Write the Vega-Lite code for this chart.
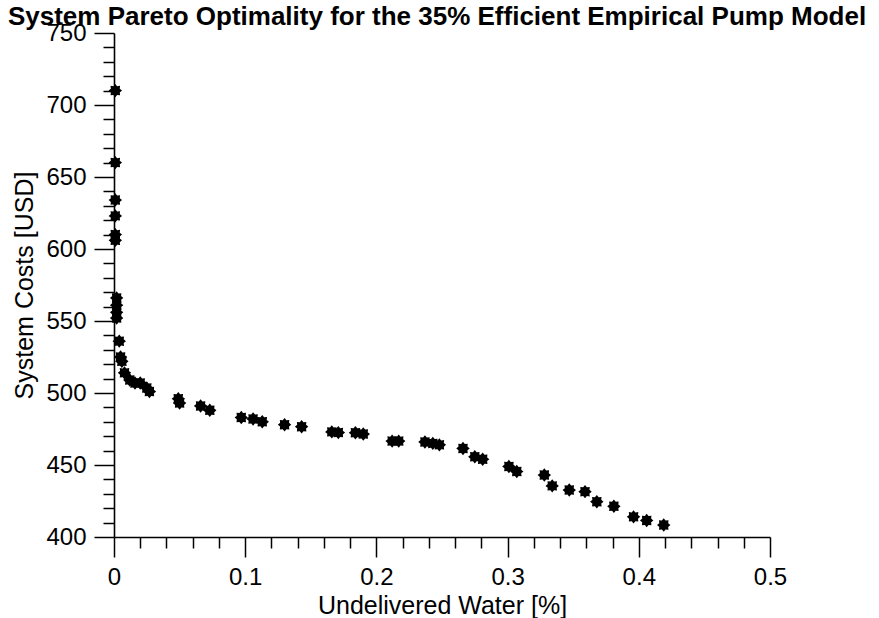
{
  "$schema": "https://vega.github.io/schema/vega-lite/v6.json",
  "width": 656,
  "height": 504,
  "autosize": {"type": "none"},
  "padding": {"left": 114, "top": 33, "right": 109, "bottom": 81},
  "background": "white",
  "title": {"text": "System Pareto Optimality for the 35% Efficient Empirical Pump Model", "font": "Liberation Sans", "fontSize": 26, "fontWeight": "bold", "anchor": "middle", "frame": "group", "offset": -9, "dx": -5, "color": "black"},
  "config": {
    "view": {"stroke": null},
    "axis": {"domainColor": "black", "tickColor": "black", "labelColor": "black", "titleColor": "black", "labelFont": "Liberation Sans", "titleFont": "Liberation Sans", "titleFontWeight": "normal", "grid": false, "domainWidth": 1.6, "tickWidth": 1.5, "labelOverlap": false, "labelFlush": false}
  },
  "data": {"values": [
    {"water": 0.001, "cost": 710},
    {"water": 0.001, "cost": 660},
    {"water": 0.001, "cost": 634},
    {"water": 0.001, "cost": 623},
    {"water": 0.001, "cost": 610},
    {"water": 0.001, "cost": 606},
    {"water": 0.002, "cost": 566},
    {"water": 0.002, "cost": 561},
    {"water": 0.002, "cost": 556},
    {"water": 0.002, "cost": 552},
    {"water": 0.004, "cost": 536},
    {"water": 0.005, "cost": 525},
    {"water": 0.006, "cost": 522},
    {"water": 0.008, "cost": 514},
    {"water": 0.012, "cost": 509},
    {"water": 0.016, "cost": 507},
    {"water": 0.02, "cost": 507},
    {"water": 0.025, "cost": 503.5},
    {"water": 0.027, "cost": 501},
    {"water": 0.049, "cost": 496},
    {"water": 0.05, "cost": 493},
    {"water": 0.066, "cost": 491},
    {"water": 0.073, "cost": 488},
    {"water": 0.097, "cost": 483},
    {"water": 0.106, "cost": 482},
    {"water": 0.113, "cost": 480},
    {"water": 0.13, "cost": 478},
    {"water": 0.143, "cost": 476.6},
    {"water": 0.166, "cost": 473},
    {"water": 0.171, "cost": 472.5},
    {"water": 0.184, "cost": 472.4},
    {"water": 0.19, "cost": 471.5},
    {"water": 0.212, "cost": 466.6},
    {"water": 0.217, "cost": 466.6},
    {"water": 0.237, "cost": 466},
    {"water": 0.243, "cost": 465},
    {"water": 0.248, "cost": 464},
    {"water": 0.266, "cost": 461.5},
    {"water": 0.275, "cost": 455.7},
    {"water": 0.281, "cost": 454},
    {"water": 0.301, "cost": 449},
    {"water": 0.307, "cost": 445.5},
    {"water": 0.328, "cost": 443},
    {"water": 0.334, "cost": 435.5},
    {"water": 0.347, "cost": 432.6},
    {"water": 0.359, "cost": 431.5},
    {"water": 0.368, "cost": 424.5},
    {"water": 0.381, "cost": 421.3},
    {"water": 0.396, "cost": 414},
    {"water": 0.406, "cost": 411.5},
    {"water": 0.419, "cost": 408.3}
  ]},
  "layer": [
    {
      "mark": {"type": "point", "shape": "M1,0L0.665,0.276L0.707,0.707L0.276,0.665L0,1L-0.276,0.665L-0.707,0.707L-0.665,0.276L-1,0L-0.665,-0.276L-0.707,-0.707L-0.276,-0.665L0,-1L0.276,-0.665L0.707,-0.707L0.665,-0.276Z", "filled": true, "color": "black", "size": 180, "opacity": 1, "strokeWidth": 0},
      "encoding": {
        "x": {"field": "water", "type": "quantitative", "scale": {"domain": [0, 0.5], "nice": false, "zero": false},
              "axis": {"orient": "bottom", "values": [0, 0.1, 0.2, 0.3, 0.4, 0.5], "format": "~g", "tickSize": 20, "labelFontSize": 24, "labelPadding": 8, "title": "Undelivered Water [%]", "titleFontSize": 25, "titlePadding": 4}},
        "y": {"field": "cost", "type": "quantitative", "scale": {"domain": [400, 750], "nice": false, "zero": false},
              "axis": {"orient": "left", "values": [400, 450, 500, 550, 600, 650, 700, 750], "format": "d", "tickSize": 20, "labelFontSize": 24, "labelPadding": 8, "title": "System Costs [USD]", "titleFontSize": 25, "titlePadding": 8}}
      }
    },
    {
      "mark": {"type": "point", "opacity": 0},
      "encoding": {
        "x": {"field": "water", "type": "quantitative",
              "axis": {"orient": "bottom", "values": [0.02, 0.04, 0.06, 0.08, 0.12, 0.14, 0.16, 0.18, 0.22, 0.24, 0.26, 0.28, 0.32, 0.34, 0.36, 0.38, 0.42, 0.44, 0.46, 0.48], "tickSize": 11, "labels": false, "domain": false, "title": null}},
        "y": {"field": "cost", "type": "quantitative",
              "axis": {"orient": "left", "values": [410, 420, 430, 440, 460, 470, 480, 490, 510, 520, 530, 540, 560, 570, 580, 590, 610, 620, 630, 640, 660, 670, 680, 690, 710, 720, 730, 740], "tickSize": 11, "labels": false, "domain": false, "title": null}}
      }
    }
  ],
  "resolve": {"axis": {"x": "independent", "y": "independent"}}
}
